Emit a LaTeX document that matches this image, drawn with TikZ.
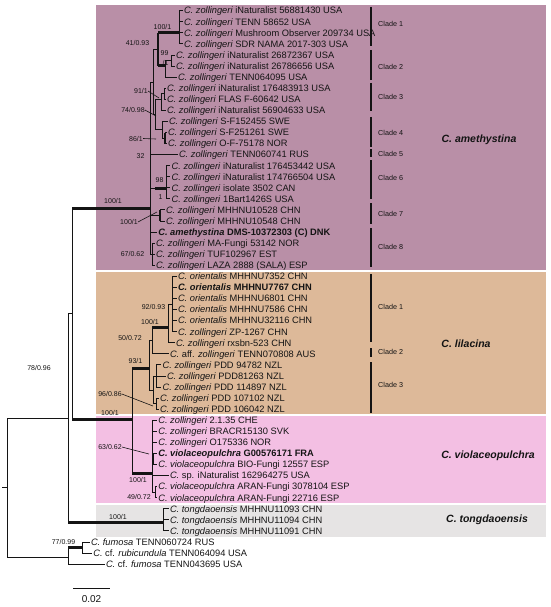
\documentclass[tikz,border=0pt]{standalone}
\usepackage{fontspec}
\setmainfont{Liberation Sans}
\definecolor{amc}{RGB}{185,143,167}
\definecolor{lic}{RGB}{221,185,153}
\definecolor{vic}{RGB}{243,191,227}
\definecolor{tgc}{RGB}{230,228,228}
\definecolor{ink}{RGB}{20,20,20}
\newcommand\Cz{\textit{C. zollingeri}}
\newcommand\Co{\textit{C. orientalis}}
\newcommand\Cv{\textit{C. violaceopulchra}}
\newcommand\Ct{\textit{C. tongdaoensis}}
\begin{document}
\begin{tikzpicture}[x=1pt,y=-1pt,
  br/.style={draw=ink,line width=0.9pt},
  thk/.style={draw=ink,line width=3pt},
  mid/.style={draw=ink,line width=2.2pt},
  ptr/.style={draw=ink,line width=0.6pt},
  bar/.style={draw=ink,line width=1.2pt},
  tx/.style={anchor=west,inner sep=0pt,outer xsep=1.5pt,xshift=-1.5pt,text height=6.6pt,text depth=0pt,text=ink,font=\fontsize{9.3}{11}\selectfont},
  bs/.style={inner sep=0pt,text=ink,font=\fontsize{7}{8}\selectfont},
  cl/.style={anchor=west,inner sep=0pt,text=ink,font=\fontsize{7.2}{8}\selectfont},
  sp/.style={inner sep=0pt,text=ink,font=\fontsize{10.5}{12}\selectfont\bfseries\itshape}]
\useasboundingbox (0,0) rectangle (550,607);
% coloured boxes
\fill[amc] (96,5) rectangle (546,269.5);
\fill[lic] (96,271.5) rectangle (546,413.5);
\fill[vic] (96,415.5) rectangle (546,503);
\fill[tgc] (96,504.5) rectangle (546,537);
% taxa
\node[tx] (t1) at (184,10.7) {\Cz{} iNaturalist 56881430 USA};
\node[tx] (t2) at (184,21.8) {\Cz{} TENN 58652 USA};
\node[tx] (t3) at (184,32.8) {\Cz{} Mushroom Observer 209734 USA};
\node[tx] (t4) at (184,43.9) {\Cz{} SDR NAMA 2017-303 USA};
\node[tx] (t5) at (176,55.0) {\Cz{} iNaturalist 26872367 USA};
\node[tx] (t6) at (176,66.1) {\Cz{} iNaturalist 26786656 USA};
\node[tx] (t7) at (178,77.1) {\Cz{} TENN064095 USA};
\node[tx] (t8) at (167,88.2) {\Cz{} iNaturalist 176483913 USA};
\node[tx] (t9) at (167,99.3) {\Cz{} FLAS F-60642 USA};
\node[tx] (t10) at (167,110.3) {\Cz{} iNaturalist 56904633 USA};
\node[tx] (t11) at (169,121.4) {\Cz{} S-F152455 SWE};
\node[tx] (t12) at (168,132.5) {\Cz{} S-F251261 SWE};
\node[tx] (t13) at (168,143.5) {\Cz{} O-F-75178 NOR};
\node[tx] (t14) at (179,154.6) {\Cz{} TENN060741 RUS};
\node[tx] (t15) at (171.7,165.7) {\Cz{} iNaturalist 176453442 USA};
\node[tx] (t16) at (171.7,176.7) {\Cz{} iNaturalist 174766504 USA};
\node[tx] (t17) at (171.7,187.8) {\Cz{} isolate 3502 CAN};
\node[tx] (t18) at (171.7,198.9) {\Cz{} 1Bart1426S USA};
\node[tx] (t19) at (166,209.9) {\Cz{} MHHNU10528 CHN};
\node[tx] (t20) at (166,221.0) {\Cz{} MHHNU10548 CHN};
\node[tx] (t21) at (158.3,232.1) {\bfseries\textit{C. amethystina} DMS-10372303 (C) DNK};
\node[tx] (t22) at (156,243.1) {\Cz{} MA-Fungi 53142 NOR};
\node[tx] (t23) at (156,254.2) {\Cz{} TUF102967 EST};
\node[tx] (t24) at (156,265.3) {\Cz{} LAZA 2888 (SALA) ESP};
\node[tx] (t25) at (178,276.4) {\Co{} MHHNU7352 CHN};
\node[tx] (t26) at (178,287.4) {\bfseries\Co{} MHHNU7767 CHN};
\node[tx] (t27) at (178,298.5) {\Co{} MHHNU6801 CHN};
\node[tx] (t28) at (178,309.6) {\Co{} MHHNU7586 CHN};
\node[tx] (t29) at (178,320.6) {\Co{} MHHNU32116 CHN};
\node[tx] (t30) at (178,331.7) {\Cz{} ZP-1267 CHN};
\node[tx] (t31) at (176,342.8) {\Cz{} rxsbn-523 CHN};
\node[tx] (t32) at (170,353.8) {\textit{C.} aff. \textit{zollingeri} TENN070808 AUS};
\node[tx] (t33) at (162.7,364.9) {\Cz{} PDD 94782 NZL};
\node[tx] (t34) at (167,376.0) {\Cz{} PDD81263 NZL};
\node[tx] (t35) at (162.7,387.0) {\Cz{} PDD 114897 NZL};
\node[tx] (t36) at (160,398.1) {\Cz{} PDD 107102 NZL};
\node[tx] (t37) at (160,409.2) {\Cz{} PDD 106042 NZL};
\node[tx] (t38) at (158.3,420.2) {\Cz{} 2.1.35 CHE};
\node[tx] (t39) at (158.3,431.3) {\Cz{} BRACR15130 SVK};
\node[tx] (t40) at (158.3,442.4) {\Cz{} O175336 NOR};
\node[tx] (t41) at (158.3,453.4) {\bfseries\Cv{} G00576171 FRA};
\node[tx] (t42) at (158.3,464.5) {\Cv{} BIO-Fungi 12557 ESP};
\node[tx] (t43) at (170,475.6) {\textit{C.} sp. iNaturalist 162964275 USA};
\node[tx] (t44) at (158.3,486.6) {\Cv{} ARAN-Fungi 3078104 ESP};
\node[tx] (t45) at (158.3,497.7) {\Cv{} ARAN-Fungi 22716 ESP};
\node[tx] (t46) at (170,508.8) {\Ct{} MHHNU11093 CHN};
\node[tx] (t47) at (170,519.8) {\Ct{} MHHNU11094 CHN};
\node[tx] (t48) at (170,530.9) {\Ct{} MHHNU11091 CHN};
\node[tx] (t49) at (91,542.0) {\textit{C. fumosa} TENN060724 RUS};
\node[tx] (t50) at (93.3,553.0) {\textit{C.} cf. \textit{rubicundula} TENN064094 USA};
\node[tx] (t51) at (106,564.1) {\textit{C.} cf. \textit{fumosa} TENN043695 USA};
% internal nodes
\coordinate (R0) at (2,487);
\coordinate (R) at (7,487);
\coordinate (Y) at (68,418);
\coordinate (X) at (72,313.5);
\coordinate (OG) at (68,557);
\coordinate (OGa) at (82,547.5);
\coordinate (TG) at (163,522);
\coordinate (AM) at (150,208);
\coordinate (LV) at (132,419);
\coordinate (C14) at (153,82);
\coordinate (C12) at (158,49.5);
\coordinate (CL1) at (179,33);
\coordinate (CL2) at (165,66);
\coordinate (C2a) at (171,60.5);
\coordinate (C34) at (155,114.5);
\coordinate (CL3) at (161,99.3);
\coordinate (C3a) at (164,93.7);
\coordinate (CL4) at (162,129.7);
\coordinate (C4a) at (165,138);
\coordinate (CL6s) at (155,188);
\coordinate (CL6) at (166,188);
\coordinate (CL7) at (160,215.5);
\coordinate (CL8) at (152,254.2);
\coordinate (LIL) at (149,368);
\coordinate (L12) at (152,340.5);
\coordinate (L1) at (168,327);
\coordinate (L1a) at (172,304);
\coordinate (C3) at (153,390);
\coordinate (C3x) at (156,376);
\coordinate (C3y) at (156,403.6);
\coordinate (VIO) at (152,473);
\coordinate (V2) at (153,459);
\coordinate (V3) at (155,492);
% root and deep branches
\draw[br] (R0) -- (R);
\draw[br] (R) |- (Y);
\draw[br] (R) |- (OG);
\draw[br] (Y) |- (X);
\draw[br] (Y) |- (TG);
\draw[thk] (Y |- TG) -- (TG);
\draw[br] (X) |- (AM);
\draw[thk] (X |- AM) -- (AM);
\draw[br] (X) |- (LV);
\draw[thk] (X |- LV) -- (LV);
% outgroup
\draw[br] (OG) |- (OGa);
\draw[thk] (OG |- OGa) -- (OGa);
\draw[br] (OG) |- (t51.west);
\draw[br] (OGa) |- (t49.west);
\draw[br] (OGa) |- (t50.west);
% tongdaoensis
\foreach \t in {t46,t47,t48} \draw[br] (TG) |- (\t.west);
% amethystina
\draw[br] (AM) |- (C14);
\draw[br] (AM) |- (t14.west);
\draw[br] (AM) |- (CL6);
\draw[thk] (CL6s) -- (CL6);
\draw[br] (AM) |- (CL7);
\draw[br] (AM) |- (t21.west);
\draw[br] (AM) |- (CL8);
\draw[br] (C14) |- (C12);
\draw[br] (C14) |- (C34);
\draw[mid] (C12 |- CL1) -- (C12 |- CL2);
\draw[thk] (C12 |- CL1) -- (CL1);
\draw[thk] (C12 |- CL2) -- (CL2);
\foreach \t in {t1,t2,t3,t4} \draw[br] (CL1) |- (\t.west);
\draw[br] (CL2) |- (C2a);
\draw[br] (CL2) |- (t7.west);
\foreach \t in {t5,t6} \draw[br] (C2a) |- (\t.west);
\draw[br] (C34) |- (CL3);
\draw[br] (C34) |- (CL4);
\draw[br] (CL3) |- (C3a);
\draw[br] (CL3) |- (t10.west);
\foreach \t in {t8,t9} \draw[br] (C3a) |- (\t.west);
\draw[br] (CL4) |- (t11.west);
\draw[br] (CL4) |- (C4a);
\foreach \t in {t12,t13} \draw[br] (C4a) |- (\t.west);
\draw[mid] (C4a |- t12) -- (C4a |- t13);
\foreach \t in {t15,t16,t17,t18} \draw[br] (CL6) |- (\t.west);
\foreach \t in {t19,t20} \draw[br] (CL7) |- (\t.west);
\draw[mid] (CL7 |- t19) -- (CL7 |- t20);
\foreach \t in {t22,t23,t24} \draw[br] (CL8) |- (\t.west);
% lilacina + violaceopulchra
\draw[br] (LV) |- (LIL);
\draw[thk] (LV |- LIL) -- (LIL);
\draw[br] (LV) |- (VIO);
\draw[thk] (LV |- VIO) -- (VIO);
\draw[br] (LIL) |- (L12);
\draw[br] (LIL) |- (C3);
\draw[br] (L12) |- (L1);
\draw[thk] (L12 |- L1) -- (L1);
\draw[br] (L12) |- (t32.west);
\draw[br] (L1) |- (L1a);
\draw[br] (L1) |- (t31.west);
\foreach \t in {t25,t26,t27,t28,t29,t30} \draw[br] (L1a) |- (\t.west);
\draw[br] (C3) |- (C3x);
\draw[br] (C3) |- (C3y);
\foreach \t in {t33,t34,t35} \draw[br] (C3x) |- (\t.west);
\foreach \t in {t36,t37} \draw[br] (C3y) |- (\t.west);
\foreach \t in {t38,t39,t40,t43} \draw[br] (VIO) |- (\t.west);
\draw[br] (VIO) |- (V2);
\draw[br] (VIO) |- (V3);
\foreach \t in {t41,t42} \draw[br] (V2) |- (\t.west);
\draw[mid] (V2 |- t41) -- (V2 |- t42);
\foreach \t in {t44,t45} \draw[br] (V3) |- (\t.west);
% support values
\node[bs] (s1) at (162.5,26.7) {100/1};
\node[bs] (s2) at (137.5,43) {41/0.93};
\node[bs] (s3) at (164.5,53.5) {99};
\node[bs] (s3b) at (165.5,62.5) {/1};
\node[bs] (s4) at (141,91) {91/1};
\node[bs] (s5) at (133,110) {74/0.98};
\node[bs] (s6) at (136,138.5) {86/1};
\node[bs] (s7) at (140.5,156.5) {32};
\node[bs] (s8) at (159.5,180.5) {98};
\node[bs] (s8b) at (160.5,197) {1};
\node[bs] (s9) at (113,201) {100/1};
\node[bs] (s10) at (129,222) {100/1};
\node[bs] (s11) at (132.5,253.5) {67/0.62};
\node[bs] (s12) at (153.5,306.5) {92/0.93};
\node[bs] (s13) at (150,321.7) {100/1};
\node[bs] (s14) at (130,338) {50/0.72};
\node[bs] (s15) at (135.5,361) {93/1};
\node[bs] (s16) at (110,394) {96/0.86};
\node[bs] (s17) at (110,413) {100/1};
\node[bs] (s18) at (110,447) {63/0.62};
\node[bs] (s19) at (138,480) {100/1};
\node[bs] (s20) at (139,497) {49/0.72};
\node[bs] (s21) at (118,517) {100/1};
\node[bs] (s22) at (63.5,542) {77/0.99};
\node[bs] (s23) at (39,368) {78/0.96};
% pointer lines
\coordinate (p4) at (159,98);
\coordinate (p5) at (156,116);
\coordinate (p6) at (156,139);
\coordinate (p10) at (157,212);
\coordinate (p16) at (153,406);
\coordinate (p18) at (149,454);
\draw[ptr] (s4.east) -- (p4);
\draw[ptr] (s5.east) -- (p5);
\draw[ptr] (s6.east) -- (p6);
\draw[ptr] (s10.east) -- (p10);
\draw[ptr] (s16.east) -- (p16);
\draw[ptr] (s18.east) -- (p18);
% clade bars
\foreach \a/\b in {7/46,50/80,83/111,117/147,149/157,160/199,203/224,228/267,274/342,348/357,362/413}
  \draw[bar] (371,\a) -- (371,\b);
\node[cl] (k1) at (378,24) {Clade 1};
\node[cl] (k2) at (378,67) {Clade 2};
\node[cl] (k3) at (378,97) {Clade 3};
\node[cl] (k4) at (378,133) {Clade 4};
\node[cl] (k5) at (378,154) {Clade 5};
\node[cl] (k6) at (378,178) {Clade 6};
\node[cl] (k7) at (378,214) {Clade 7};
\node[cl] (k8) at (378,247) {Clade 8};
\node[cl] (m1) at (378,307) {Clade 1};
\node[cl] (m2) at (378,352) {Clade 2};
\node[cl] (m3) at (378,385) {Clade 3};
% species names
\node[sp] (n1) at (479,140) {C. amethystina};
\node[sp] (n2) at (466,344) {C. lilacina};
\node[sp] (n3) at (488,456) {C. violaceopulchra};
\node[sp] (n4) at (487,520) {C. tongdaoensis};
% scale bar
\coordinate (sb1) at (73,588);
\coordinate (sb2) at (110,588);
\draw[br] (sb1) -- (sb2);
\node[inner sep=0pt,text=ink,font=\fontsize{10}{12}\selectfont] (sbl) at (91.5,599) {0.02};
\end{tikzpicture}
\end{document}
